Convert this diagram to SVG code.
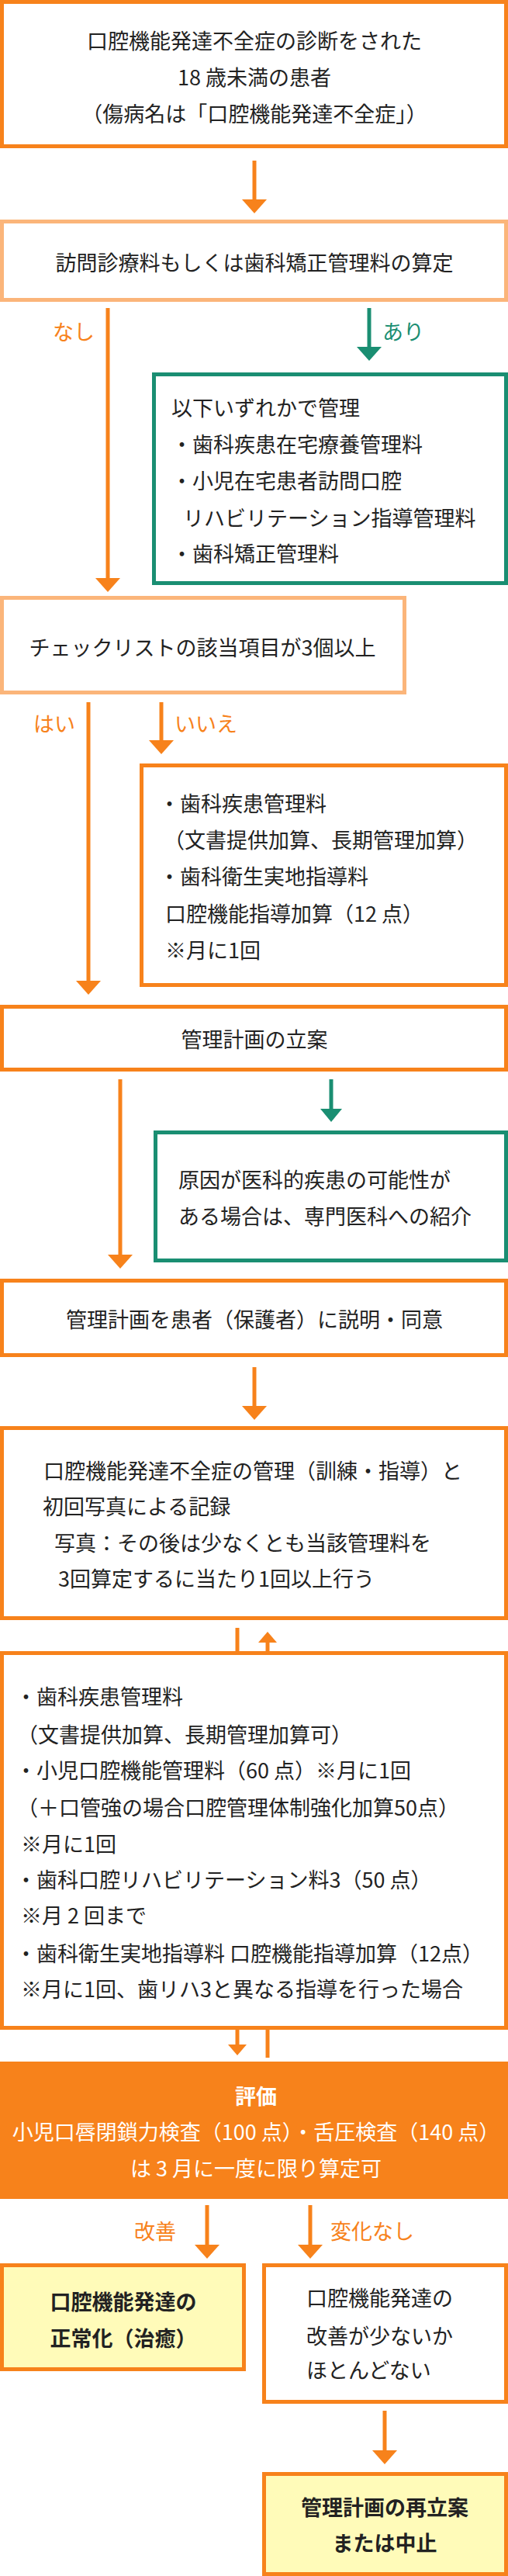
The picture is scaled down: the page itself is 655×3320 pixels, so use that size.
<svg xmlns="http://www.w3.org/2000/svg" width="655" height="3320" viewBox="0 0 655 3320">
<style>
text{font-family:"Noto Sans CJK JP","Noto Sans",sans-serif;font-size:27px;fill:#222;dominant-baseline:central}
.c{text-anchor:middle}
.b{font-weight:bold}
.w{fill:#fff}
.lo{fill:#F7821B}
.lg{fill:#1A8E72}
.o{fill:#fff;stroke:#F7821B;stroke-width:5}
.p{fill:#fff;stroke:#FBB57A;stroke-width:5}
.g{fill:#fff;stroke:#1A8E72;stroke-width:5}
.y{fill:#FFFBB9;stroke:#F7821B;stroke-width:5}
.lnO{stroke:#F7821B;stroke-width:5;fill:none}
.lnG{stroke:#1A8E72;stroke-width:5;fill:none}
</style>
<g id="connectors">
<line class="lnO" x1="328" y1="207" x2="328" y2="258"/><path d="M312,257 L328,275 L344,257 Z" fill="#F7821B"/>
<line class="lnO" x1="139" y1="397" x2="139" y2="746"/><path d="M123,745 L139,763 L155,745 Z" fill="#F7821B"/>
<line class="lnG" x1="476" y1="397" x2="476" y2="448"/><path d="M460,447 L476,465 L492,447 Z" fill="#1A8E72"/>
<line class="lnO" x1="114" y1="905" x2="114" y2="1265"/><path d="M98,1264 L114,1282 L130,1264 Z" fill="#F7821B"/>
<line class="lnO" x1="208" y1="905" x2="208" y2="955"/><path d="M192,954 L208,972 L224,954 Z" fill="#F7821B"/>
<line class="lnO" x1="155" y1="1391" x2="155" y2="1618"/><path d="M139,1617 L155,1635 L171,1617 Z" fill="#F7821B"/>
<line class="lnG" x1="427" y1="1391" x2="427" y2="1430"/><path d="M413,1429 L427,1446 L441,1429 Z" fill="#1A8E72"/>
<line class="lnO" x1="328" y1="1762" x2="328" y2="1813"/><path d="M312,1812 L328,1830 L344,1812 Z" fill="#F7821B"/>
<line class="lnO" x1="306" y1="2098" x2="306" y2="2130"/>
<line class="lnO" x1="345" y1="2116" x2="345" y2="2130"/><path d="M333,2117 L345,2103 L357,2117 Z" fill="#F7821B"/>
<line class="lnO" x1="306" y1="2614" x2="306" y2="2636"/><path d="M294,2635 L306,2649 L318,2635 Z" fill="#F7821B"/>
<line class="lnO" x1="345" y1="2614" x2="345" y2="2652"/>
<line class="lnO" x1="267" y1="2842" x2="267" y2="2894"/><path d="M251,2893 L267,2911 L283,2893 Z" fill="#F7821B"/>
<line class="lnO" x1="400" y1="2842" x2="400" y2="2894"/><path d="M384,2893 L400,2911 L416,2893 Z" fill="#F7821B"/>
<line class="lnO" x1="496" y1="3107" x2="496" y2="3159"/><path d="M480,3158 L496,3176 L512,3158 Z" fill="#F7821B"/>
<text class="lo" x="95" y="426" text-anchor="middle">なし</text>
<text class="lg" x="493" y="426">あり</text>
<text class="lo" x="70" y="931" text-anchor="middle">はい</text>
<text class="lo" x="225" y="931">いいえ</text>
<text class="lo" x="200" y="2874" text-anchor="middle">改善</text>
<text class="lo" x="426" y="2874">変化なし</text>
</g>
<g id="n1"><rect class="o" x="2.5" y="2.5" width="650" height="186"/>
<text class="c" x="328" y="51">口腔機能発達不全症の診断をされた</text>
<text class="c" x="328" y="98">18 歳未満の患者</text>
<text class="c" x="328" y="145">（傷病名は「口腔機能発達不全症」）</text></g>
<g id="n2"><rect class="p" x="2.5" y="285.5" width="650" height="101"/>
<text class="c" x="328" y="337">訪問診療料もしくは歯科矯正管理料の算定</text></g>
<g id="n3"><rect class="g" x="198.5" y="482.5" width="454" height="269"/>
<text x="221" y="524">以下いずれかで管理</text>
<text x="221" y="571">・歯科疾患在宅療養管理料</text>
<text x="221" y="618">・小児在宅患者訪問口腔</text>
<text x="236" y="666">リハビリテーション指導管理料</text>
<text x="221" y="712">・歯科矯正管理料</text></g>
<g id="n4"><rect class="p" x="2.5" y="770.5" width="519" height="122"/>
<text class="c" x="261" y="833">チェックリストの該当項目が3個以上</text></g>
<g id="n5"><rect class="o" x="182.5" y="986.5" width="470" height="283"/>
<text x="205" y="1034">・歯科疾患管理料</text>
<text x="211" y="1081">（文書提供加算、長期管理加算）</text>
<text x="205" y="1128">・歯科衛生実地指導料</text>
<text x="213" y="1176">口腔機能指導加算（12 点）</text>
<text x="213" y="1223">※月に1回</text></g>
<g id="n6"><rect class="o" x="2.5" y="1297.5" width="650" height="81"/>
<text class="c" x="328" y="1338">管理計画の立案</text></g>
<g id="n7"><rect class="g" x="200.5" y="1459.5" width="452" height="165"/>
<text x="230" y="1519">原因が医科的疾患の可能性が</text>
<text x="230" y="1566">ある場合は、専門医科への紹介</text></g>
<g id="n8"><rect class="o" x="2.5" y="1650.5" width="650" height="96"/>
<text class="c" x="328" y="1699">管理計画を患者（保護者）に説明・同意</text></g>
<g id="n9"><rect class="o" x="2.5" y="1840.5" width="650" height="245"/>
<text x="56" y="1894">口腔機能発達不全症の管理（訓練・指導）と</text>
<text x="55" y="1940">初回写真による記録</text>
<text x="70" y="1987">写真：その後は少なくとも当該管理料を</text>
<text x="75" y="2033">3回算定するに当たり1回以上行う</text></g>
<g id="n10"><rect class="o" x="2.5" y="2130.5" width="650" height="483"/>
<text x="20" y="2185">・歯科疾患管理料</text>
<text x="22" y="2234">（文書提供加算、長期管理加算可）</text>
<text x="20" y="2280">・小児口腔機能管理料（60 点）※月に1回</text>
<text x="22" y="2328">（＋口管強の場合口腔管理体制強化加算50点）</text>
<text x="27" y="2375">※月に1回</text>
<text x="20" y="2421">・歯科口腔リハビリテーション料3（50 点）</text>
<text x="27" y="2467">※月 2 回まで</text>
<text x="20" y="2516">・歯科衛生実地指導料 口腔機能指導加算（12点）</text>
<text x="27" y="2562">※月に1回、歯リハ3と異なる指導を行った場合</text></g>
<g id="n11"><rect x="0" y="2657" width="655" height="177" fill="#F7821B"/>
<text class="c w b" x="330" y="2700">評価</text>
<text class="c w" x="330" y="2746">小児口唇閉鎖力検査（100 点）・舌圧検査（140 点）</text>
<text class="c w" x="330" y="2793">は 3 月に一度に限り算定可</text></g>
<g id="n12"><rect class="y" x="2.5" y="2919.5" width="312" height="134"/>
<text class="c b" x="159" y="2965">口腔機能発達の</text>
<text class="c b" x="159" y="3012">正常化（治癒）</text></g>
<g id="n13"><rect class="o" x="340.5" y="2919.5" width="312" height="176"/>
<text x="395" y="2960">口腔機能発達の</text>
<text x="395" y="3009">改善が少ないか</text>
<text x="395" y="3053">ほとんどない</text></g>
<g id="n14"><rect class="y" x="340.5" y="3188.5" width="312" height="129"/>
<text class="c b" x="496" y="3230">管理計画の再立案</text>
<text class="c b" x="496" y="3276">または中止</text></g>
</svg>
